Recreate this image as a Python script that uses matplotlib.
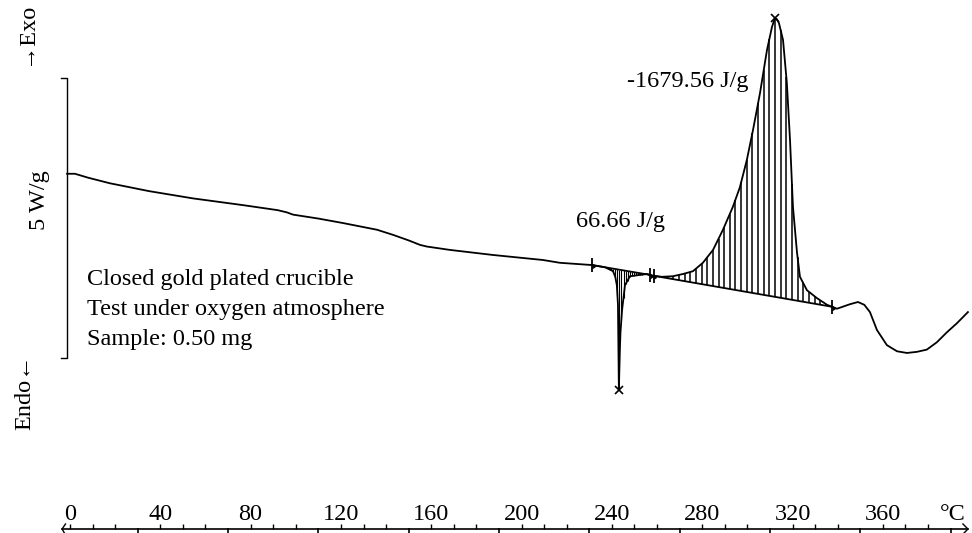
import numpy as np
import matplotlib
matplotlib.use("Agg")
import matplotlib.pyplot as plt

plt.rcParams['font.family'] = ['Liberation Serif', 'DejaVu Serif']

# DSC curve: temperature (°C) and heat flow (W/g, arbitrary offset)
temp = [-1.3, 2.2, 8.0, 17.7, 35.0, 54.5, 76.6, 92.0, 96.1, 98.8, 110.0,
        120.9, 136.0, 143.0, 150.0, 155.0, 158.1, 168.3, 187.3, 209.5, 217.0,
        231.2, 237.0, 240.5, 241.5, 242.2, 242.7, 243.1, 243.5, 243.8, 244.5,
        245.8, 248.0, 255.5, 258.2, 262.0, 267.0, 271.5, 275.9, 280.3, 284.8,
        289.2, 293.6, 296.7, 299.8, 302.5, 305.6, 308.7, 310.9, 312.2, 313.1,
        314.0, 315.8, 317.5, 318.9, 320.2, 322.0, 323.3, 326.4, 330.8, 335.3,
        339.7, 345.4, 349.0, 351.8, 354.3, 357.4, 361.8, 366.3, 370.7, 375.1,
        379.5, 383.9, 388.4, 392.8, 397.7]
heat_flow = [3.29, 3.29, 3.22, 3.12, 2.98, 2.85, 2.73, 2.64, 2.60, 2.56, 2.49,
             2.41, 2.29, 2.20, 2.10, 2.02, 1.99, 1.93, 1.84, 1.75, 1.70,
             1.66, 1.62, 1.55, 1.45, 1.30, 0.95, -0.57, 0.10, 0.45, 0.85,
             1.30, 1.46, 1.50, 1.47, 1.45, 1.46, 1.50, 1.55, 1.70, 1.93,
             2.29, 2.70, 3.05, 3.54, 4.07, 4.73, 5.50, 5.91, 6.07, 6.05,
             5.98, 5.68, 4.91, 3.89, 2.70, 1.88, 1.45, 1.21, 1.07, 0.95,
             0.88, 0.96, 1.00, 0.95, 0.82, 0.50, 0.23, 0.12, 0.09, 0.11,
             0.15, 0.28, 0.46, 0.62, 0.82]

tick_values = [0, 40, 80, 120, 160, 200, 240, 280, 320, 360]
tick_labels = ['0', '40', '80', '120', '160', '200', '240', '280', '320', '360']
minor_ticks = list(range(0, 400, 10))
long_ticks = [30, 70, 110, 150, 190, 230, 270, 310, 350, 390]
unit_label = '°C'

endo_limits = [231.2, 257.0]
exo_limits = [258.5, 337.5]
endo_peak_t = 243.1
exo_peak_t = 312.2
endo_label = '66.66 J/g'
exo_label = '-1679.56 J/g'
notes = ['Closed gold plated crucible', 'Test under oxygen atmosphere', 'Sample: 0.50 mg']
scale_bar = 5.0  # W/g

temp_a = np.array(temp)
hf_a = np.array(heat_flow)

fig = plt.figure(figsize=(9.72, 5.33), dpi=100)
ax = fig.add_axes([0, 0, 1, 1])
ax.set_xlim(-31.0, 399.5)
ax.set_ylim(-3.125, 6.393)
ax.axis('off')

FS = 17.5
lw = 1.3

# curve
ax.plot(temp_a, hf_a, color='black', lw=lw, zorder=3, solid_joinstyle='round')

def hatch(limits, step, lwh):
    y0 = np.interp(limits[0], temp_a, hf_a)
    y1 = np.interp(limits[1], temp_a, hf_a)
    ax.plot(limits, [y0, y1], color='black', lw=lw, zorder=3)
    th = np.arange(limits[0] + step / 2, limits[1], step)
    base = y0 + (y1 - y0) * (th - limits[0]) / (limits[1] - limits[0])
    ax.vlines(th, base, np.interp(th, temp_a, hf_a), color='black', lw=lwh, zorder=2)
    for t, y in zip(limits, [y0, y1]):
        ax.plot([t], [y], marker='|', ms=10, mew=1.3, color='black', zorder=4)
        ax.plot([t + 1.2], [y - 0.02], marker=5, ms=3, color='black', zorder=4)

hatch(endo_limits, 0.9, 0.8)
hatch(exo_limits, 2.5, 1.1)

for t in (endo_peak_t, exo_peak_t):
    ax.plot([t], [np.interp(t, temp_a, hf_a)], marker='x', ms=6, mew=1.2,
            color='black', zorder=5)

ax.text(300.3, 4.93, exo_label, ha='right', va='center', fontsize=FS)
ax.text(224.1, 2.43, endo_label, ha='left', va='center', fontsize=FS)

for i, n in enumerate(notes):
    ax.text(7.5, 1.40 - i * 0.535, n, ha='left', va='center', fontsize=FS)

# scale bar
ax.plot([-4.0, -1.33, -1.33, -4.0], [scale_bar, scale_bar, 0, 0], color='black', lw=1.0)
ax.text(-13.3, 2.82, '5 W/g', rotation=90, ha='center', va='center', fontsize=FS)
ax.text(-19.9, 5.80, '→Exo', rotation=90, ha='center', va='center', fontsize=FS)
ax.text(-19.9, -0.62, 'Endo←', rotation=90, ha='center', va='center', fontsize=FS)

# temperature axis
y_ax = -3.054
ax.plot([-3.5, 397.7], [y_ax, y_ax], color='black', lw=1.2, clip_on=False)
ax.vlines([m for m in minor_ticks if m not in long_ticks], y_ax, y_ax + 0.09,
          color='black', lw=1.0)
ax.vlines(long_ticks, y_ax - 0.1, y_ax + 0.02, color='black', lw=1.2, clip_on=False)
ax.plot([-2.0, -3.5, -2.5], [y_ax + 0.09, y_ax, y_ax - 0.07], color='black', lw=1.0)
ax.plot([395.5, 397.7, 395.5], [y_ax + 0.09, y_ax, y_ax - 0.09], color='black', lw=1.0)
for v, lab in zip(tick_values, tick_labels):
    ax.text(v, -2.89, lab, ha='center', va='baseline', fontsize=FS)
ax.text(391.0, -2.89, unit_label, ha='center', va='baseline', fontsize=FS)

fig.savefig('out.png', dpi=100)
